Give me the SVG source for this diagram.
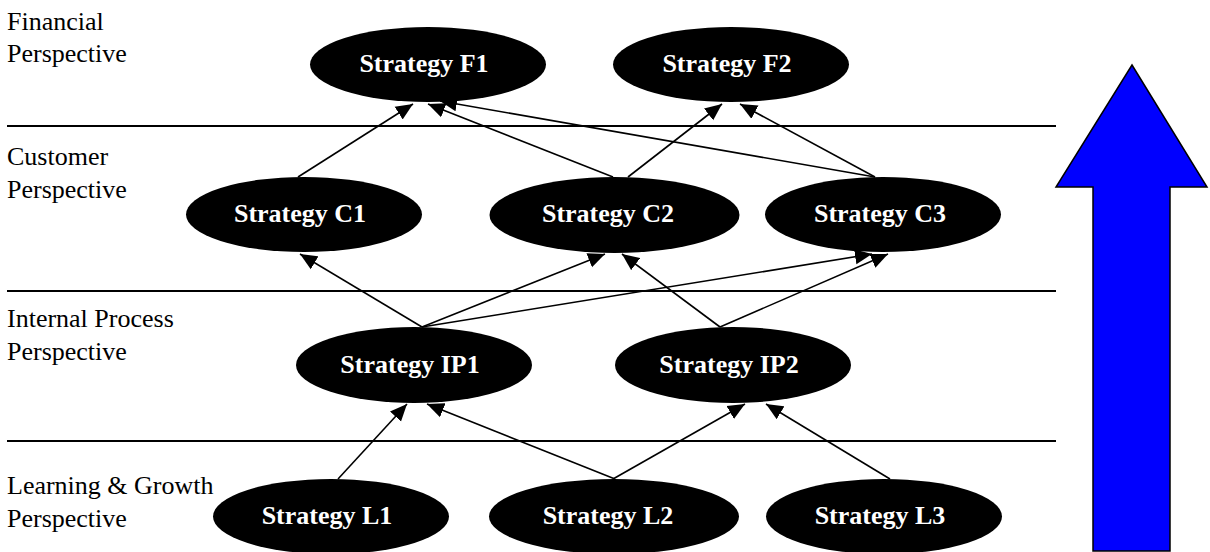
<svg xmlns="http://www.w3.org/2000/svg" width="1210" height="552" viewBox="0 0 1210 552">
<defs>
<style>
.lbl{font-family:"Liberation Serif","Times New Roman",serif;font-size:26px;fill:#000}
.nt{font-family:"Liberation Serif","Times New Roman",serif;font-size:26px;font-weight:bold;fill:#fff;text-anchor:middle}
.node ellipse{fill:#000}
.sep{stroke:#000;stroke-width:2}
.con line{stroke:#000;stroke-width:1.6;marker-end:url(#ah)}
</style>
<marker id="ah" markerUnits="userSpaceOnUse" markerWidth="18" markerHeight="16" viewBox="0 0 18 16" refX="17" refY="8" orient="auto">
<path d="M0,0.5 L17,8 L0,15.5 z" fill="#000"/>
</marker>
</defs>
<rect width="1210" height="552" fill="#fff"/>
<g id="separators">
<line class="sep" x1="7" y1="126" x2="1056" y2="126"/>
<line class="sep" x1="7" y1="291" x2="1056" y2="291"/>
<line class="sep" x1="7" y1="441" x2="1056" y2="441"/>
</g>
<g id="labels">
<text class="lbl" x="7" y="30">Financial</text>
<text class="lbl" x="7" y="62">Perspective</text>
<text class="lbl" x="7" y="165">Customer</text>
<text class="lbl" x="7" y="198">Perspective</text>
<text class="lbl" x="7" y="327">Internal Process</text>
<text class="lbl" x="7" y="360">Perspective</text>
<text class="lbl" x="7" y="494">Learning &amp; Growth</text>
<text class="lbl" x="7" y="527">Perspective</text>
</g>
<g id="F1" class="node"><ellipse cx="428" cy="64.5" rx="118" ry="37.5"/><text class="nt" x="424" y="72">Strategy F1</text></g>
<g id="F2" class="node"><ellipse cx="731" cy="64.5" rx="118" ry="37.5"/><text class="nt" x="727" y="72">Strategy F2</text></g>
<g id="C1" class="node"><ellipse cx="304" cy="214.5" rx="118" ry="37.5"/><text class="nt" x="300" y="222">Strategy C1</text></g>
<g id="C2" class="node"><ellipse cx="614.5" cy="215" rx="125" ry="38"/><text class="nt" x="608" y="222">Strategy C2</text></g>
<g id="C3" class="node"><ellipse cx="883" cy="214.5" rx="118" ry="37.5"/><text class="nt" x="880" y="222">Strategy C3</text></g>
<g id="IP1" class="node"><ellipse cx="414" cy="365" rx="118" ry="38"/><text class="nt" x="410" y="373">Strategy IP1</text></g>
<g id="IP2" class="node"><ellipse cx="733" cy="365" rx="118" ry="38"/><text class="nt" x="729" y="373">Strategy IP2</text></g>
<g id="L1" class="node"><ellipse cx="331" cy="516.5" rx="118" ry="37.5"/><text class="nt" x="327" y="524">Strategy L1</text></g>
<g id="L2" class="node"><ellipse cx="614" cy="516.5" rx="125" ry="37.5"/><text class="nt" x="608" y="524">Strategy L2</text></g>
<g id="L3" class="node"><ellipse cx="884" cy="516.5" rx="118" ry="37.5"/><text class="nt" x="880" y="524">Strategy L3</text></g>
<g id="connectors" class="con">
<line x1="298" y1="177" x2="413" y2="104"/>
<line x1="613" y1="177" x2="428" y2="104"/>
<line x1="875" y1="177" x2="440" y2="101"/>
<line x1="628" y1="177" x2="722" y2="104"/>
<line x1="875" y1="177" x2="740" y2="104"/>
<line x1="422" y1="327" x2="300" y2="254"/>
<line x1="422" y1="327" x2="605" y2="254"/>
<line x1="422" y1="327" x2="872" y2="254"/>
<line x1="720" y1="327" x2="622" y2="254"/>
<line x1="720" y1="327" x2="888" y2="254"/>
<line x1="338" y1="479" x2="407" y2="404"/>
<line x1="615" y1="479" x2="427" y2="404"/>
<line x1="613" y1="479" x2="745" y2="404"/>
<line x1="890" y1="479" x2="766" y2="404"/>
</g>
<g id="big-arrow">
<polygon points="1132,65 1207,187 1170,187 1170,551 1093,551 1093,187 1056,187" fill="#0000ff" stroke="#000" stroke-width="1.5" stroke-linejoin="miter"/>
</g>
</svg>
